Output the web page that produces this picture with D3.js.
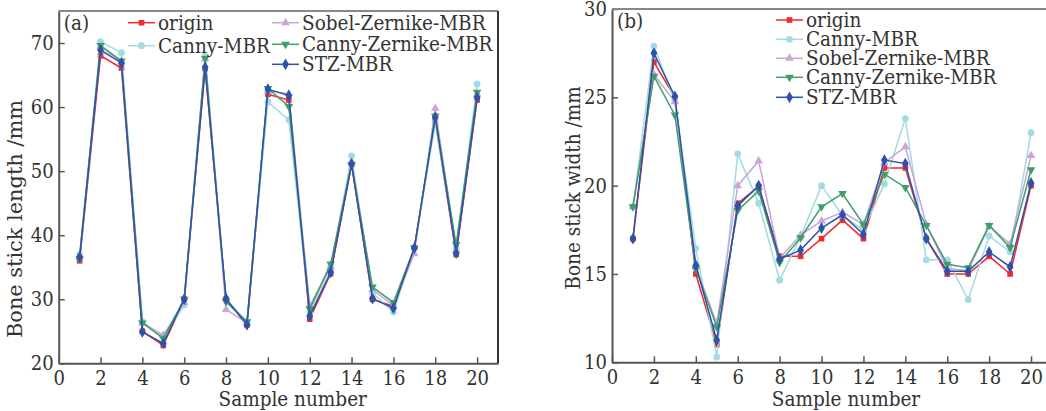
<!DOCTYPE html>
<html>
<head>
<meta charset="utf-8">
<script src="https://cdn.jsdelivr.net/npm/d3@7"></script>
<style>
  body { margin: 0; background: #fff; }
  svg text { font-family: "DejaVu Serif", serif; font-stretch: condensed; fill: #333; }
</style>
</head>
<body>
<script>
// sample numbers 1..20
var samples = [1,2,3,4,5,6,7,8,9,10,11,12,13,14,15,16,17,18,19,20];
var xTicks = [0,2,4,6,8,10,12,14,16,18,20];

// (a) bone stick length /mm
var lenOrigin = [36.0,68.0,66.1,25.0,22.8,30.0,66.0,30.0,26.0,62.0,61.1,26.9,34.0,51.0,30.0,28.9,38.0,58.0,37.0,61.1];
var lenCanny  = [37.0,70.2,68.5,26.5,24.0,29.1,68.0,30.0,26.5,60.8,58.0,28.0,35.0,52.4,31.0,28.0,38.0,57.5,38.0,63.6];
var lenSobel  = [36.5,69.5,67.0,26.3,24.4,29.5,67.5,28.4,26.3,62.5,62.1,29.0,35.0,51.5,31.5,29.0,37.1,59.8,37.7,62.0];
var lenCZ     = [36.3,69.6,67.2,26.3,23.9,30.0,67.6,29.6,26.5,62.9,60.1,28.5,35.5,51.0,31.9,29.5,38.0,58.6,38.5,62.3];
var lenSTZ    = [36.6,68.9,66.9,24.9,23.1,30.0,66.2,30.1,26.0,62.8,61.8,27.4,34.2,51.1,30.1,28.6,38.0,58.4,37.2,61.5];
var lenTicks  = [20,30,40,50,60,70];

// (b) bone stick width /mm
var widOrigin = [17.0,27.0,25.0,15.0,11.0,19.0,19.95,16.0,16.0,17.0,18.05,17.0,21.0,21.0,17.0,15.0,15.0,16.0,15.0,20.0];
var widCanny  = [18.8,27.9,24.8,16.45,10.3,21.8,19.0,14.65,17.1,20.0,18.3,17.5,20.1,23.8,15.8,15.8,13.55,17.15,16.25,23.0];
var widSobel  = [18.8,26.3,24.75,15.4,12.2,20.0,21.4,15.9,17.2,18.0,18.5,17.8,21.3,22.2,17.8,15.3,15.2,17.7,16.7,21.7];
var widCZ     = [18.8,26.2,24.0,15.3,12.0,18.6,19.7,15.65,17.05,18.8,19.55,17.8,20.65,19.9,17.75,15.55,15.35,17.75,16.5,20.9];
var widSTZ    = [17.0,27.5,25.05,15.5,11.25,18.85,20.0,15.85,16.35,17.6,18.35,17.25,21.45,21.25,17.0,15.15,15.15,16.25,15.4,20.15];
var widTicks  = [10,15,20,25,30];

var names  = ["origin","Canny-MBR","Sobel-Zernike-MBR","Canny-Zernike-MBR","STZ-MBR"];
var colors = ["#ee2b2f","#a3dbe2","#c9a6d6","#3f9f6b","#2c52ab"];
var shapes = [d3.symbolSquare, d3.symbolCircle, d3.symbolTriangle, d3.symbolTriangle, d3.symbolDiamond];
var rotate = [0,0,0,180,0];
var sizes  = [32,36,32,32,40];

var svg = d3.select("body").append("svg")
    .attr("width", 1046)
    .attr("height", 411);

function marker(g, i, x, y) {
  g.append("path")
    .attr("d", d3.symbol().type(shapes[i]).size(sizes[i]))
    .attr("transform", "translate(" + x + "," + y + ") rotate(" + rotate[i] + ")")
    .attr("fill", colors[i]);
}

function make_plot(cfg) {
  var xScale = d3.scaleLinear().domain([0, 21]).range(cfg.xr);
  var yScale = d3.scaleLinear().domain(cfg.yd).range(cfg.yr);
  var axisColor = "#555";

  var g = svg.append("g");

  // x axis, ticks pointing inward
  var xa = g.append("g")
      .attr("transform", "translate(0," + cfg.yr[0] + ")")
      .call(d3.axisBottom(xScale).tickValues(xTicks).tickSizeInner(-6).tickSizeOuter(0).tickPadding(8));
  xa.select(".domain").attr("stroke", axisColor).attr("stroke-width", 2);
  xa.selectAll(".tick line").attr("stroke", axisColor).attr("stroke-width", 1.5);
  xa.selectAll(".tick text").attr("font-size", 20).attr("fill", "#333").attr("font-family", null);

  var ya = g.append("g")
      .attr("transform", "translate(" + cfg.xr[0] + ",0)")
      .call(d3.axisLeft(yScale).tickValues(cfg.yt).tickSizeInner(-6).tickSizeOuter(0).tickPadding(5));
  ya.select(".domain").attr("stroke", axisColor).attr("stroke-width", 2);
  ya.selectAll(".tick line").attr("stroke", axisColor).attr("stroke-width", 1.5);
  ya.selectAll(".tick text").attr("font-size", 20).attr("fill", "#333").attr("font-family", null);

  // top and right frame
  g.append("line").attr("x1", cfg.xr[0]).attr("x2", cfg.xr[1])
    .attr("y1", cfg.yr[1]).attr("y2", cfg.yr[1])
    .attr("stroke", "#888").attr("stroke-width", 2);
  g.append("line").attr("x1", cfg.xr[1]).attr("x2", cfg.xr[1])
    .attr("y1", cfg.yr[1]).attr("y2", cfg.yr[0])
    .attr("stroke", "#333").attr("stroke-width", 2);

  var line = d3.line()
      .x(function(d, i) { return xScale(samples[i]); })
      .y(function(d) { return yScale(d); });

  cfg.series.forEach(function(s, k) {
    g.append("path")
      .datum(s)
      .attr("d", line)
      .attr("fill", "none")
      .attr("stroke", colors[k])
      .attr("stroke-width", 1.5);
    s.forEach(function(v, i) {
      marker(g, k, xScale(samples[i]), yScale(v));
    });
  });

  // legend
  cfg.legend.forEach(function(p, k) {
    g.append("line").attr("x1", p[0]).attr("x2", p[0] + 27)
      .attr("y1", p[1]).attr("y2", p[1])
      .attr("stroke", colors[k]).attr("stroke-width", 1.5);
    marker(g, k, p[0] + 13.5, p[1]);
    g.append("text").attr("x", p[0] + 30).attr("y", p[1] + 7)
      .attr("font-size", 20.5).text(names[k]);
  });

  g.append("text").attr("x", cfg.xr[0] + 5).attr("y", cfg.yr[1] + 19)
    .attr("font-size", 20.5).text(cfg.tag);

  g.append("text").attr("x", cfg.xr[0] + 234).attr("y", 406)
    .attr("font-size", 20.5).style("text-anchor", "middle").text("Sample number");

  var yl = g.append("text")
    .attr("transform", "translate(" + cfg.ylx + "," + cfg.yly + ") rotate(-90)")
    .attr("font-size", 20.5).style("text-anchor", "middle").text(cfg.ylabel);
  if (cfg.ylen) yl.attr("textLength", cfg.ylen).attr("lengthAdjust", "spacingAndGlyphs");
}

make_plot({
  xr: [58.7, 498], yd: [20, 75], yr: [363.3, 11], yt: lenTicks,
  series: [lenOrigin, lenCanny, lenSobel, lenCZ, lenSTZ],
  legend: [[128, 22.7], [128, 45.7], [272, 22.7], [272, 44.3], [272, 64.3]],
  tag: "(a)", ylabel: "Bone stick length /mm", ylx: 22, yly: 219, ylen: 238
});

make_plot({
  xr: [612, 1052], yd: [10, 30], yr: [362.3, 9], yt: widTicks,
  series: [widOrigin, widCanny, widSobel, widCZ, widSTZ],
  legend: [[776, 20], [776, 39.3], [776, 58.3], [776, 77.3], [776, 97.3]],
  tag: "(b)", ylabel: "Bone stick width /mm", ylx: 580, yly: 188
});
</script>
</body>
</html>
